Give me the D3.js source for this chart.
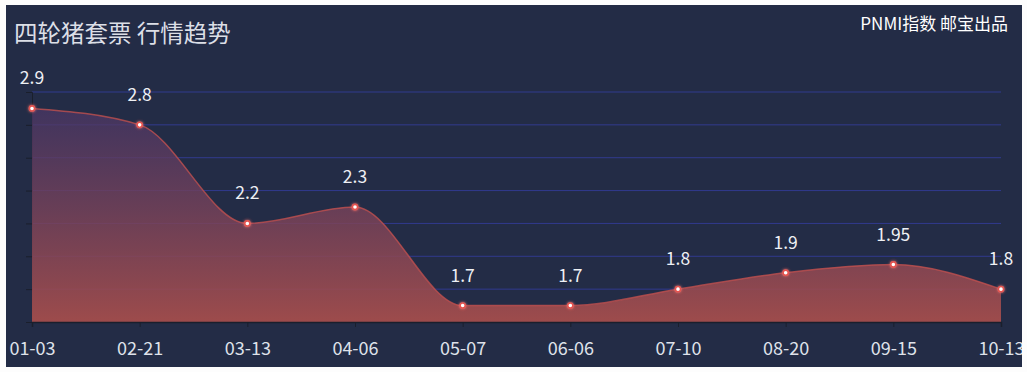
<!DOCTYPE html>
<html>
<head>
<meta charset="utf-8">
<script src="https://cdn.jsdelivr.net/npm/d3@7"></script>
<style>
  html, body { margin: 0; padding: 0; background: #fdfdfd; }
  .main {
    position: absolute; left: 6px; top: 5px;
    width: 1016px; height: 362px;
    background: #232c46; overflow: hidden;
  }
  text { font-family: "Noto Sans CJK SC", "Noto Sans", sans-serif; }
</style>
</head>
<body>
<div class="main"></div>
<script>
const dates = ['01-03', '02-21', '03-13', '04-06', '05-07', '06-06', '07-10', '08-20', '09-15', '10-13'];
const prices = [2.9, 2.8, 2.2, 2.3, 1.7, 1.7, 1.8, 1.9, 1.95, 1.8];
const yTicks = [1.6, 1.8, 2.0, 2.2, 2.4, 2.6, 2.8, 3.0];

const w = 1016, h = 362;
const margin = { left: 26, right: 21, top: 87, bottom: 45 };

const svg = d3.select('.main')
    .append('svg')
    .attr('width', w)
    .attr('height', h);

// gradient for the area
const defs = svg.append('defs');
const grad = defs.append('linearGradient')
    .attr('id', 'areaGrad')
    .attr('x1', 0).attr('y1', 0).attr('x2', 0).attr('y2', 1);
grad.append('stop').attr('offset', '0%').attr('stop-color', '#4a3766').attr('stop-opacity', 0.75);
grad.append('stop').attr('offset', '100%').attr('stop-color', '#a84e4c').attr('stop-opacity', 0.92);

const glow = defs.append('filter').attr('id', 'glow')
    .attr('x', '-100%').attr('y', '-100%').attr('width', '300%').attr('height', '300%');
glow.append('feGaussianBlur').attr('stdDeviation', 1.6).attr('result', 'b');
const fm = glow.append('feMerge');
fm.append('feMergeNode').attr('in', 'b');
fm.append('feMergeNode').attr('in', 'SourceGraphic');

const x = d3.scalePoint()
    .domain(dates)
    .range([margin.left, w - margin.right]);

const y = d3.scaleLinear()
    .domain([1.6, 3.0])
    .range([h - margin.bottom, margin.top]);

// grid lines
svg.append('g')
    .attr('class', 'grid')
    .selectAll('line')
    .data(yTicks.slice(1))
    .enter()
    .append('line')
    .attr('x1', margin.left)
    .attr('x2', w - margin.right)
    .attr('y1', d => y(d))
    .attr('y2', d => y(d))
    .attr('stroke', '#313a8e')
    .attr('stroke-width', 1);

// y axis (no labels)
const yAxis = svg.append('g')
    .attr('transform', `translate(${margin.left},0)`)
    .call(d3.axisLeft(y).tickValues(yTicks).tickSize(6).tickFormat(''));
yAxis.select('.domain').attr('stroke', '#1a1f2c');
yAxis.selectAll('.tick line').attr('stroke', '#1a1f2c');

const curve = d3.curveMonotoneX;

const area = d3.area()
    .x((d, i) => x(dates[i]))
    .y0(y(1.6))
    .y1(d => y(d))
    .curve(curve);

const line = d3.line()
    .x((d, i) => x(dates[i]))
    .y(d => y(d))
    .curve(curve);

svg.append('path')
    .datum(prices)
    .attr('d', area)
    .attr('fill', 'url(#areaGrad)');

svg.append('path')
    .datum(prices)
    .attr('d', line)
    .attr('fill', 'none')
    .attr('stroke', '#c0504f')
    .attr('stroke-opacity', 0.8)
    .attr('stroke-width', 1.5);

// x axis
const xAxis = svg.append('g')
    .attr('transform', `translate(0,${h - margin.bottom})`)
    .call(d3.axisBottom(x).tickSize(5).tickPadding(15));
xAxis.select('.domain').attr('stroke', '#1a1f2c').attr('stroke-width', 1.5);
xAxis.selectAll('.tick line').attr('stroke', '#1a1f2c');
xAxis.selectAll('.tick text')
    .attr('fill', '#dfe2ea')
    .attr('font-size', 18)
    .style('font-family', '"Noto Sans CJK SC", sans-serif');

// points
svg.append('g')
    .selectAll('circle')
    .data(prices)
    .enter()
    .append('circle')
    .attr('cx', (d, i) => x(dates[i]))
    .attr('cy', d => y(d))
    .attr('r', 2.6)
    .attr('fill', '#ffffff')
    .attr('stroke', '#e5534f')
    .attr('stroke-width', 1.6)
    .attr('filter', 'url(#glow)');

// value labels
svg.append('g')
    .selectAll('text')
    .data(prices)
    .enter()
    .append('text')
    .attr('x', (d, i) => x(dates[i]))
    .attr('y', d => y(d) - 24)
    .attr('text-anchor', 'middle')
    .attr('fill', '#eef0f4')
    .attr('font-size', 17.5)
    .text(d => d);

// title
svg.append('text')
    .attr('x', 8)
    .attr('y', 37)
    .attr('fill', '#dcdfe6')
    .attr('font-size', 23.5)
    .text('四轮猪套票 行情趋势');

svg.append('text')
    .attr('x', 1002)
    .attr('y', 25)
    .attr('text-anchor', 'end')
    .attr('fill', '#ffffff')
    .attr('font-size', 17)
    .text('PNMI指数 邮宝出品');
</script>
</body>
</html>
